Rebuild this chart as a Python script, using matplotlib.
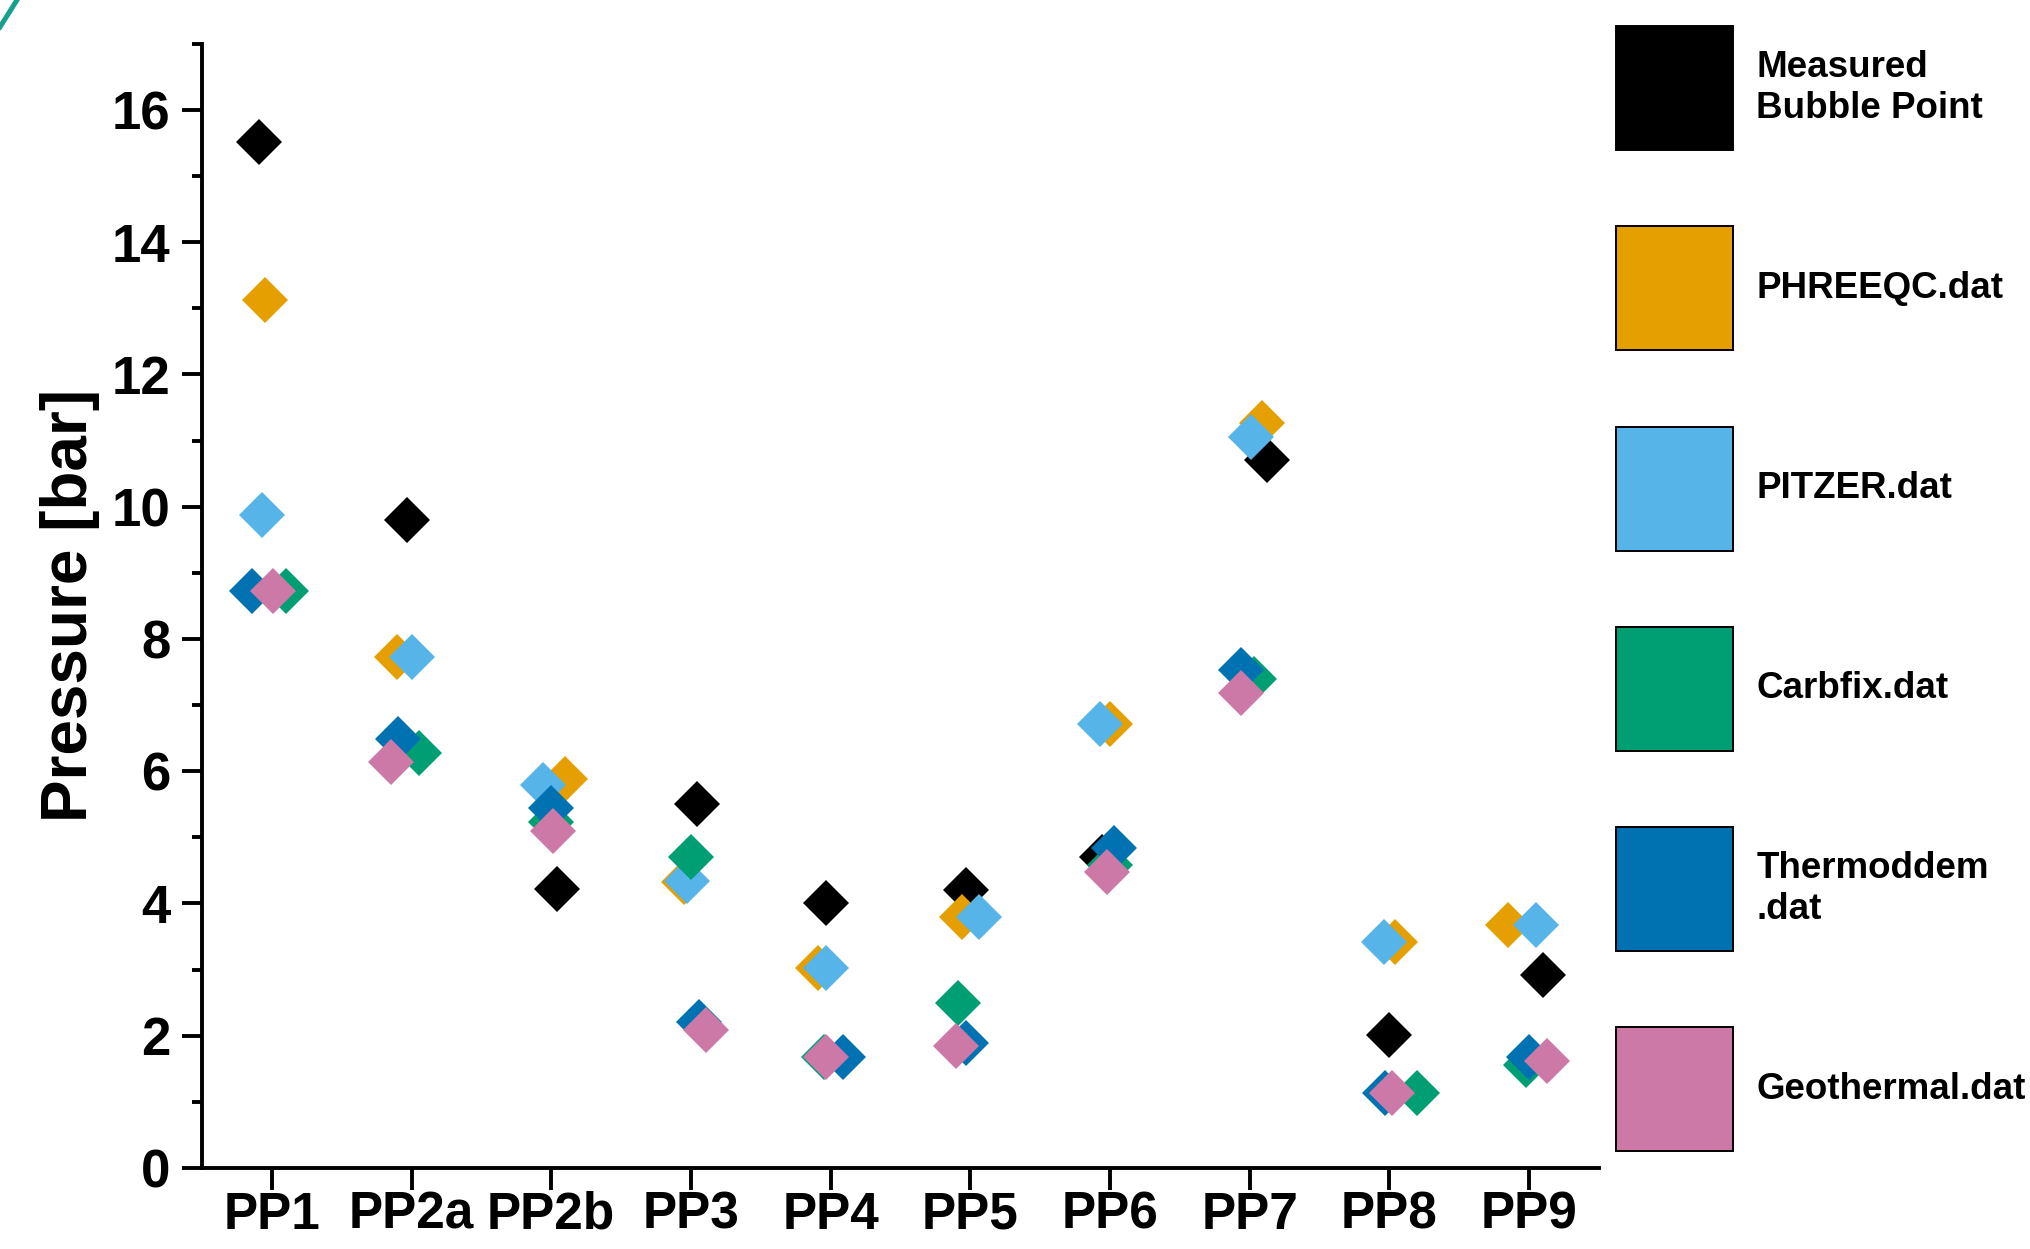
import matplotlib
matplotlib.use("Agg")
import matplotlib.pyplot as plt
from matplotlib.patches import Patch
from matplotlib.lines import Line2D
from matplotlib.ticker import MultipleLocator
import numpy as np

plt.rcParams['font.family'] = ['Liberation Sans', 'DejaVu Sans']
plt.rcParams['font.weight'] = 'bold'

# ---------------- data ----------------
categories = ['PP1', 'PP2a', 'PP2b', 'PP3', 'PP4', 'PP5', 'PP6', 'PP7', 'PP8', 'PP9']

measured   = [15.51, 9.80, 4.22, 5.51, 4.01, 4.21, 4.70, 10.70, 2.01, 2.92]
phreeqc    = [13.13, 7.73, 5.88, 4.33, 3.03, 3.80, 6.72, 11.27, 3.42, 3.68]
pitzer     = [9.88, 7.73, 5.79, 4.34, 3.03, 3.80, 6.72, 11.06, 3.42, 3.68]
carbfix    = [8.73, 6.28, 5.23, 4.70, 1.68, 2.50, 4.58, 7.40, 1.13, 1.56]
thermoddem = [8.73, 6.49, 5.45, 2.21, 1.68, 1.89, 4.84, 7.53, 1.13, 1.68]
geothermal = [8.73, 6.14, 5.10, 2.09, 1.68, 1.85, 4.48, 7.19, 1.13, 1.62]

# horizontal jitter of each point (in category units)
measured_dx   = [-0.09, -0.03, 0.04, 0.04, -0.03, -0.03, -0.06, 0.12, 0.00, 0.10]
phreeqc_dx    = [-0.05, -0.105, 0.10, -0.05, -0.09, -0.06, 0.00, 0.09, 0.04, -0.15]
pitzer_dx     = [-0.07, 0.00, -0.06, -0.03, -0.03, 0.06, -0.07, 0.01, -0.04, 0.05]
carbfix_dx    = [0.10, 0.05, 0.00, 0.00, -0.05, -0.09, 0.00, 0.03, 0.20, -0.02]
thermoddem_dx = [-0.14, -0.10, 0.00, 0.055, 0.09, -0.03, 0.03, -0.06, -0.03, 0.00]
geothermal_dx = [0.01, -0.15, 0.01, 0.11, -0.03, -0.10, -0.02, -0.06, 0.02, 0.13]

labels = ['Measured\nBubble Point', 'PHREEQC.dat', 'PITZER.dat',
          'Carbfix.dat', 'Thermoddem\n.dat', 'Geothermal.dat']
colors = ['#000000', '#E69F00', '#56B4E9', '#009E73', '#0072B2', '#CC79A7']

# ---------------- figure ----------------
fig = plt.figure(figsize=(20.30, 12.49), dpi=100)
ax = fig.add_axes([0.0995, 0.0649, 0.6882, 0.9000])

x = np.arange(len(categories))
series = [
    (measured, measured_dx, colors[0]),
    (phreeqc, phreeqc_dx, colors[1]),
    (pitzer, pitzer_dx, colors[2]),
    (carbfix, carbfix_dx, colors[3]),
    (thermoddem, thermoddem_dx, colors[4]),
    (geothermal, geothermal_dx, colors[5]),
]
for vals, dx, c in series:
    ax.plot(x + np.array(dx), vals, linestyle='none', marker='D', ms=23,
            mew=0, color=c, clip_on=False)

ax.set_xlim(-0.5, 9.5)
ax.set_ylim(0, 17)
ax.set_xticks(x)
ax.set_xticklabels(categories)
ax.yaxis.set_major_locator(MultipleLocator(2))
ax.yaxis.set_minor_locator(MultipleLocator(1))

for s in ['top', 'right']:
    ax.spines[s].set_visible(False)
for s in ['left', 'bottom']:
    ax.spines[s].set_linewidth(2.8)

ax.tick_params(axis='y', which='major', length=14.5, width=2.8, labelsize=38, pad=8)
ax.tick_params(axis='y', which='minor', length=7, width=2.8)
ax.tick_params(axis='x', which='major', length=15.5, width=2.8, labelsize=37, pad=1)
for lab in ax.get_xticklabels() + ax.get_yticklabels():
    lab.set_fontweight('bold')

ax.set_ylabel('Pressure [bar]', fontsize=46, fontweight='bold')
ax.yaxis.set_label_coords(-0.073, 0.5)

# legend
handles = [Patch(facecolor=c, edgecolor='black', linewidth=1.4) for c in colors]
leg = fig.legend(handles, labels, loc='upper left',
                 bbox_to_anchor=(1616 / 2030, 1 - 26 / 1249),
                 frameon=False, fontsize=26.5, handlelength=3.18,
                 handleheight=4.81, labelspacing=2.07, handletextpad=0.63,
                 borderpad=0, borderaxespad=0)
for t in leg.get_texts():
    t.set_fontweight('bold')
for col in leg._legend_handle_box.get_children():
    for row in col.get_children():
        row.align = 'center'

# teal corner stroke seen at the top-left of the source image
fig.add_artist(Line2D([0, 17 / 2030], [1 - 27 / 1249, 1], transform=fig.transFigure,
                      color='#17A08C', lw=3.6))

fig.savefig('out.png', dpi=100)
